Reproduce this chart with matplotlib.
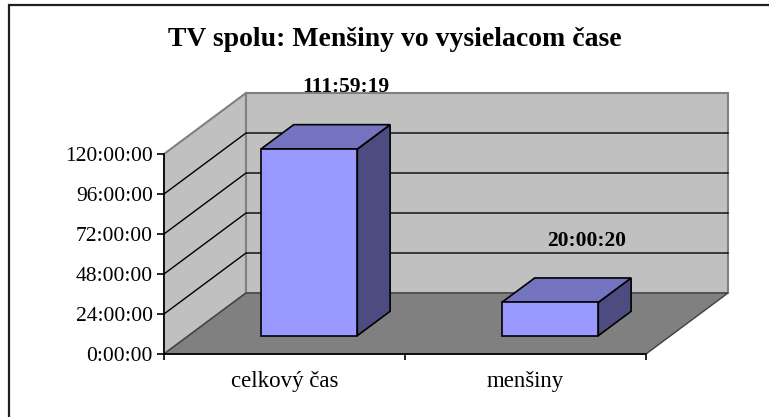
import matplotlib
matplotlib.use("Agg")
import matplotlib.pyplot as plt
from matplotlib.patches import Polygon, Rectangle
from matplotlib.ticker import FixedLocator

# ---- data ----
title = "TV spolu: Menšiny vo vysielacom čase"
categories = ["celkový čas", "menšiny"]
values_hms = ["111:59:19", "20:00:20"]
yticks_hours = [0, 24, 48, 72, 96, 120]


def hms_to_hours(s):
    h, m, sec = (int(p) for p in s.split(":"))
    return h + m / 60 + sec / 3600


values = [hms_to_hours(s) for s in values_hms]

# ---- style / layout ----
W, H, DPI = 769, 417, 100
FONT = "Liberation Serif"
plt.rcParams["font.family"] = [FONT, "DejaVu Serif"]

FRONT_COL = "#9999FF"
TOP_COL = "#7373BF"
SIDE_COL = "#4C4C80"
WALL_COL = "#C0C0C0"
FLOOR_COL = "#808080"
WALL_EDGE = "#808080"

fig = plt.figure(figsize=(W / DPI, H / DPI), dpi=DPI)
fig.patch.set_facecolor("white")

# front plane of the 3D box (pixels)
px_left, px_right, px_y0, px_ytop = 164, 646, 354, 154
ax = fig.add_axes([px_left / W, (H - px_y0) / H,
                   (px_right - px_left) / W, (px_y0 - px_ytop) / H])
ax.set_xlim(0, len(categories))
ax.set_ylim(0, 120)
ax.patch.set_visible(False)

# depth offset (pixels) converted to data units
DEPTH_PX = (82, 61)
dxc = DEPTH_PX[0] / ((px_right - px_left) / len(categories))
dyh = DEPTH_PX[1] / ((px_y0 - px_ytop) / 120)


def P(x, y, d):
    return (x + d * dxc, y + d * dyh)


def poly(pts, fc, ec, lw, z):
    ax.add_patch(Polygon([P(*p) for p in pts], closed=True, facecolor=fc,
                         edgecolor=ec, linewidth=lw, zorder=z, clip_on=False,
                         joinstyle="miter"))


n = len(categories)
ymax = 120
# walls and floor
poly([(0, 0, 0), (0, ymax, 0), (0, ymax, 1), (0, 0, 1)], WALL_COL, WALL_EDGE, 1.5, 0.5)
poly([(0, 0, 1), (n, 0, 1), (n, ymax, 1), (0, ymax, 1)], WALL_COL, WALL_EDGE, 1.5, 0.5)
poly([(0, 0, 0), (n, 0, 0), (n, 0, 1), (0, 0, 1)], FLOOR_COL, "#404040", 1.0, 0.6)

# gridlines
for t in yticks_hours[1:-1]:
    xs, ys = zip(P(0, t, 0), P(0, t, 1), P(n, t, 1))
    ax.plot(xs, ys, color="black", lw=1.0, zorder=0.7, clip_on=False)

# bars
d0, d1 = 0.3, 0.7
half = 0.2
for i, v in enumerate(values):
    c = i + 0.5
    x0, x1 = c - half, c + half
    poly([(x1, 0, d0), (x1, 0, d1), (x1, v, d1), (x1, v, d0)], SIDE_COL, "black", 1.2, 3)
    poly([(x0, v, d0), (x1, v, d0), (x1, v, d1), (x0, v, d1)], TOP_COL, "black", 1.2, 3)
    poly([(x0, 0, d0), (x1, 0, d0), (x1, v, d0), (x0, v, d0)], FRONT_COL, "black", 1.2, 3)
    ax.text(c + 0.255, v + 48, values_hms[i], ha="center", va="center",
            fontsize=15.5, fontweight="bold", zorder=4)

# axes: spines, ticks
for s in ["top", "right"]:
    ax.spines[s].set_visible(False)
for s in ["left", "bottom"]:
    ax.spines[s].set_linewidth(1.2)
    ax.spines[s].set_zorder(5)
ax.set_yticks(yticks_hours)
ax.set_yticklabels([f"{int(t)}:00:00" for t in yticks_hours])
ax.tick_params(axis="y", direction="out", length=5, width=1.2, pad=3,
               labelsize=15.5)
ax.set_xticks(range(n + 1))
ax.set_xticklabels([])
ax.tick_params(axis="x", which="major", direction="out", length=4.5, width=1.2)
ax.xaxis.set_minor_locator(FixedLocator([i + 0.5 for i in range(n)]))
ax.set_xticklabels(categories, minor=True)
ax.tick_params(axis="x", which="minor", length=0, pad=12, labelsize=16.5)

# title
fig.text(395 / W, 1 - 39 / H, title, ha="center", va="center",
         fontsize=20, fontweight="bold")

# chart frame
fig.add_artist(Rectangle((8.5 / W, -0.1), (775 - 8.5) / W, 1.1 - 5.5 / H,
                         transform=fig.transFigure, fill=False,
                         edgecolor="#202020", linewidth=1.6))

fig.savefig("out.png", dpi=DPI)
